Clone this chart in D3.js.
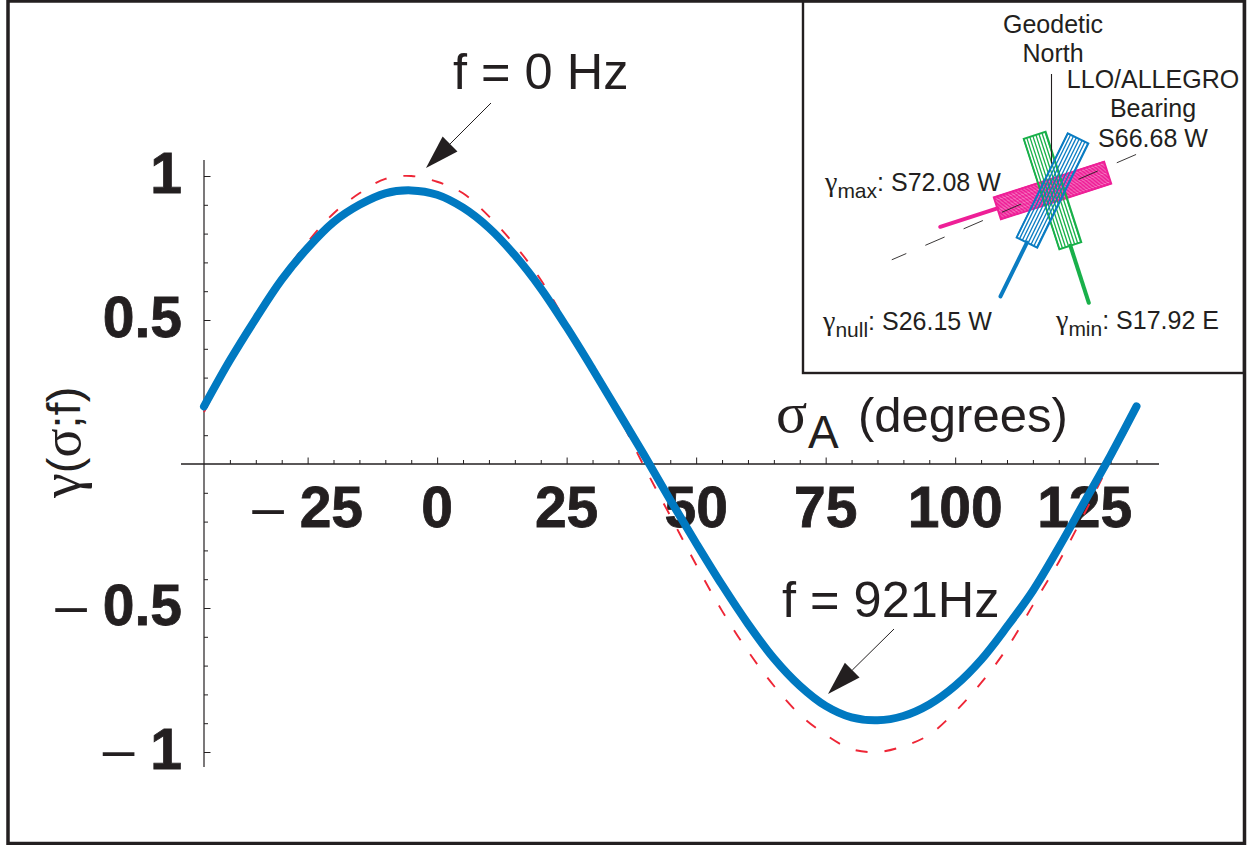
<!DOCTYPE html>
<html>
<head>
<meta charset="utf-8">
<script src="https://cdn.jsdelivr.net/npm/d3@7"></script>
<style>
  html, body { margin: 0; padding: 0; background: #fff; }
  svg { display: block; }
  text { font-family: "Liberation Sans", Arial, sans-serif; fill: #231f20; }
  .greek { font-family: "Liberation Serif", serif; }
</style>
</head>
<body>
<svg></svg>
<script>
const width = 1249;
const height = 845;
const ink = "#231f20";

// values
const sigma = [-45, -40, -35, -30, -25, -20, -15, -10, -5, 0, 5, 10, 15, 20, 25, 30, 35, 40, 45,
  50, 55, 60, 65, 70, 75, 80, 85, 90, 95, 100, 105, 110, 115, 120, 125, 130, 135];
const gammaZeroHz = [0.18, 0.35, 0.51, 0.65, 0.77, 0.87, 0.94, 0.99, 1, 0.98, 0.94, 0.86, 0.76, 0.64, 0.49, 0.34, 0.17, -0.01, -0.18,
  -0.35, -0.51, -0.65, -0.77, -0.87, -0.94, -0.99, -1, -0.98, -0.94, -0.86, -0.76, -0.64, -0.49, -0.34, -0.17, 0.01, 0.18];
const gamma921Hz = [0.2, 0.36, 0.505, 0.64, 0.75, 0.84, 0.9, 0.94, 0.95, 0.935, 0.89, 0.82, 0.725, 0.61, 0.475, 0.33, 0.18, 0.03, -0.125,
  -0.275, -0.42, -0.555, -0.675, -0.77, -0.84, -0.88, -0.89, -0.875, -0.835, -0.77, -0.68, -0.565, -0.44, -0.29, -0.13, 0.03, 0.2];
const xTickLabels = [-25, 0, 25, 50, 75, 100, 125];
const yTickLabels = [1, 0.5, -0.5, -1];

// inset: bearings in degrees from south, positive towards west
const arms = ["max", "min", "null"];
const armBearing = [72.08, -17.92, 26.15];
const armColor = ["#ee1f97", "#19b04a", "#0a7cc2"];
const armHatch = [1.35, 3.2, 3.2];
const llaBearing = 66.68;

const svg = d3.select("svg").attr("width", width).attr("height", height);

const x = d3.scaleLinear().domain([-45, 135]).range([204, 1136.5]);
const y = d3.scaleLinear().domain([-1, 1]).range([752, 176]);

// axes
function styleAxis(g) {
  g.select(".domain").remove();
  g.selectAll("line").attr("stroke", ink).attr("stroke-width", 1);
  g.selectAll("text").remove();
}
const xMinor = d3.range(-40, 136, 5).filter(d => d % 25 !== 0);
const xMajor = d3.range(-25, 136, 25);
const yMinor = d3.range(-10, 11).filter(d => d !== 0 && d % 5 !== 0).map(d => d / 10);
const yMajor = [-1, -0.5, 0.5, 1];

const axes = svg.append("g");
axes.append("g").attr("transform", `translate(0,${y(0)})`)
  .call(d3.axisTop(x).tickValues(xMinor).tickSize(4)).call(styleAxis);
axes.append("g").attr("transform", `translate(0,${y(0)})`)
  .call(d3.axisTop(x).tickValues(xMajor).tickSize(6.5)).call(styleAxis);
axes.append("g").attr("transform", `translate(${x(-45)},0)`)
  .call(d3.axisRight(y).tickValues(yMinor).tickSize(4)).call(styleAxis);
axes.append("g").attr("transform", `translate(${x(-45)},0)`)
  .call(d3.axisRight(y).tickValues(yMajor).tickSize(6.5)).call(styleAxis);
axes.append("line")
  .attr("x1", 181).attr("x2", 1159).attr("y1", y(0)).attr("y2", y(0))
  .attr("stroke", ink).attr("stroke-width", 1.6);
axes.append("line")
  .attr("x1", x(-45)).attr("x2", x(-45)).attr("y1", 160).attr("y2", 767)
  .attr("stroke", ink).attr("stroke-width", 1.2);

// tick labels
function minusLabel(sel, v) {
  if (v < 0) {
    sel.append("tspan").attr("font-weight", "normal").attr("stroke", "none").text("\u2013 ");
  }
  sel.append("tspan").text(Math.abs(v));
}
svg.append("g").selectAll("text").data(xTickLabels).join("text")
  .attr("x", d => x(d)).attr("y", 527)
  .attr("text-anchor", "middle")
  .attr("font-size", 57).attr("font-weight", "bold")
  .attr("stroke", ink).attr("stroke-width", 0.8)
  .each(function (d) { minusLabel(d3.select(this), d); });
svg.append("g").selectAll("text").data(yTickLabels).join("text")
  .attr("x", 182).attr("y", d => y(d) + 17)
  .attr("text-anchor", "end")
  .attr("font-size", 57).attr("font-weight", "bold")
  .attr("stroke", ink).attr("stroke-width", 0.8)
  .each(function (d) { minusLabel(d3.select(this), d); });

// curves
const line = d3.line()
  .x((d, i) => x(sigma[i]))
  .y(d => y(d))
  .curve(d3.curveCatmullRom);

svg.append("path")
  .attr("d", line(gammaZeroHz))
  .attr("fill", "none").attr("stroke", "#ee2636")
  .attr("stroke-width", 1.9).attr("stroke-dasharray", "12 17");
svg.append("path")
  .attr("d", line(gamma921Hz))
  .attr("fill", "none").attr("stroke", "#0079c1")
  .attr("stroke-width", 8).attr("stroke-linecap", "round");

// axis titles
const xTitle = svg.append("text").attr("x", 776).attr("y", 432).attr("font-size", 49);
xTitle.append("tspan").attr("class", "greek").attr("font-size", 58).text("\u03c3");
xTitle.append("tspan").attr("dy", 16).attr("x", 808).attr("font-size", 46).text("A");
xTitle.append("tspan").attr("dy", -16).attr("x", 858).text("(degrees)");

const yTitle = svg.append("text")
  .attr("transform", "translate(80,498) rotate(-90)")
  .attr("font-size", 47);
yTitle.append("tspan").attr("class", "greek").attr("font-size", 56).text("\u03b3");
yTitle.append("tspan").text("(");
yTitle.append("tspan").attr("class", "greek").attr("font-size", 54).text("\u03c3");
yTitle.append("tspan").text(";f)");

// annotations
svg.append("text").attr("x", 453).attr("y", 89).attr("font-size", 50.5).text("f = 0 Hz");
svg.append("text").attr("x", 782).attr("y", 617).attr("font-size", 50.5).text("f = 921Hz");

function arrow(x0, y0, x1, y1) {
  const a = Math.atan2(y1 - y0, x1 - x0);
  const bx = x1 - 34 * Math.cos(a), by = y1 - 34 * Math.sin(a);
  const nx = 10.5 * Math.sin(a), ny = -10.5 * Math.cos(a);
  svg.append("line")
    .attr("x1", x0).attr("y1", y0).attr("x2", bx).attr("y2", by)
    .attr("stroke", ink).attr("stroke-width", 1);
  svg.append("path")
    .attr("d", `M${x1},${y1}L${bx + nx},${by + ny}L${bx - nx},${by - ny}Z`)
    .attr("fill", ink);
}
arrow(491, 103, 426, 168);
arrow(894, 629, 828, 694);

// inset
const inset = svg.append("g");
inset.append("rect")
  .attr("x", 803).attr("y", 1)
  .attr("width", 441).attr("height", 372)
  .attr("fill", "#fff").attr("stroke", ink).attr("stroke-width", 2.4);

// page frame
svg.append("rect")
  .attr("x", 8).attr("y", 1)
  .attr("width", 1236.5).attr("height", 842.5)
  .attr("fill", "none").attr("stroke", ink).attr("stroke-width", 3.5);

const cx = 1052.5;
const cy = 190.5;
const armWidth = 23;
const armLength = 116;
const handleEnd = 118;

const armGroups = inset.append("g").selectAll("g").data(arms).join("g")
  .attr("transform", (d, i) => `translate(${cx},${cy}) rotate(${armBearing[i]})`);

armGroups.each(function (d, i) {
  const g = d3.select(this);
  const color = armColor[i];
  const offsets = d3.range(-armWidth / 2, armWidth / 2 + 0.01, armHatch[i]);
  g.append("line")
    .attr("y1", armLength / 2).attr("y2", handleEnd)
    .attr("stroke", color).attr("stroke-width", 4).attr("stroke-linecap", "round");
  g.selectAll(".hatch").data(offsets).join("line")
    .attr("class", "hatch")
    .attr("x1", o => o).attr("x2", o => o)
    .attr("y1", -armLength / 2).attr("y2", armLength / 2)
    .attr("stroke", color).attr("stroke-width", 1.3);
  g.append("rect")
    .attr("x", -armWidth / 2).attr("y", -armLength / 2)
    .attr("width", armWidth).attr("height", armLength)
    .attr("fill", "none").attr("stroke", color).attr("stroke-width", 1.9);
});

inset.append("line")
  .attr("transform", `translate(${cx},${cy}) rotate(${llaBearing})`)
  .attr("y1", -91).attr("y2", 175)
  .attr("stroke", ink).attr("stroke-width", 0.8)
  .attr("stroke-dasharray", "21 20.7 21 62.4 21 20.7 21 20.7 21 20.7 21 20.7");
inset.append("line")
  .attr("x1", cx - 1).attr("x2", cx - 1).attr("y1", 74).attr("y2", cy - 27)
  .attr("stroke", ink).attr("stroke-width", 1.1);

const insetFont = 25;
const insetLabels = ["Geodetic", "North", "LLO/ALLEGRO", "Bearing", "S66.68 W"];
const insetLabelX = [1053, 1053, 1153, 1153, 1153];
const insetLabelY = [33, 62, 88, 117, 147];
inset.append("g").selectAll("text").data(insetLabels).join("text")
  .attr("x", (d, i) => insetLabelX[i]).attr("y", (d, i) => insetLabelY[i])
  .attr("text-anchor", "middle").attr("font-size", insetFont)
  .text(d => d);

function gammaLabel(px, py, sub, rest) {
  const t = inset.append("text").attr("x", px).attr("y", py).attr("font-size", insetFont);
  t.append("tspan").attr("class", "greek").attr("font-size", 28).text("\u03b3");
  t.append("tspan").attr("dy", 7).attr("font-size", 21).text(sub);
  t.append("tspan").attr("dy", -7).text(": " + rest);
}
gammaLabel(825, 191, "max", "S72.08 W");
gammaLabel(823, 330, "null", "S26.15 W");
gammaLabel(1056, 329, "min", "S17.92 E");
</script>
</body>
</html>
